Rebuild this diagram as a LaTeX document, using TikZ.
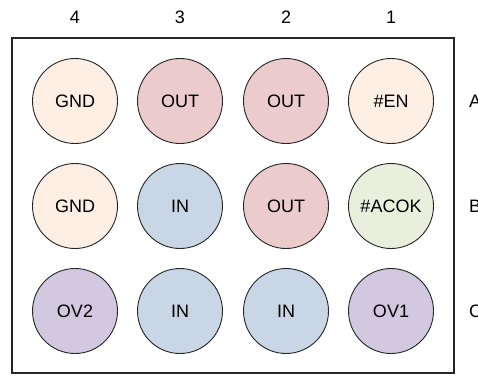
\documentclass[tikz,border=0pt]{standalone}
\usepackage{fontspec}
\setmainfont{Liberation Sans}
\usepackage{tikz}
\definecolor{gndfill}{HTML}{FDEFE3}
\definecolor{outfill}{HTML}{EBCBCB}
\definecolor{infill}{HTML}{C9D6E6}
\definecolor{ovfill}{HTML}{D2C8DF}
\definecolor{okfill}{HTML}{E9EEDD}
\tikzstyle{every node}=[font=\fontsize{18}{21}\selectfont, inner sep=0pt]
\tikzset{bga/.style={circle, draw=black!85, line width=0.9pt, minimum size=85pt}}
\tikzset{gnd/.style={bga, fill=gndfill}}
\tikzset{outp/.style={bga, fill=outfill}}
\tikzset{inp/.style={bga, fill=infill}}
\tikzset{ovp/.style={bga, fill=ovfill}}
\tikzset{okp/.style={bga, fill=okfill}}

\begin{document}
\begin{tikzpicture}[x=1pt,y=-1pt]
    \useasboundingbox (0,0) rectangle (478,375);
    \draw[line width=1.2pt, draw=black!85] (12,38) rectangle (454,373);

    % column numbers
    \node (c4) at (75,17) {4};
    \node (c3) at (180,17) {3};
    \node (c2) at (286,17) {2};
    \node (c1) at (391,17) {1};

    % row letters
    \node[anchor=west] (ra) at (469,101) {A};
    \node[anchor=west] (rb) at (469,206) {B};
    \node[anchor=west] (rc) at (469,311) {C};

    % row A
    \node[gnd] (a4) at (75,101) {GND};
    \node[outp] (a3) at (180,101) {OUT};
    \node[outp] (a2) at (286,101) {OUT};
    \node[gnd] (a1) at (391,101) {\#EN};

    % row B
    \node[gnd] (b4) at (75,206) {GND};
    \node[inp] (b3) at (180,206) {IN};
    \node[outp] (b2) at (286,206) {OUT};
    \node[okp] (b1) at (391,206) {\#ACOK};

    % row C
    \node[ovp] (c4p) at (75,311) {OV2};
    \node[inp] (c3p) at (180,311) {IN};
    \node[inp] (c2p) at (286,311) {IN};
    \node[ovp] (c1p) at (391,311) {OV1};
\end{tikzpicture}
\end{document}
